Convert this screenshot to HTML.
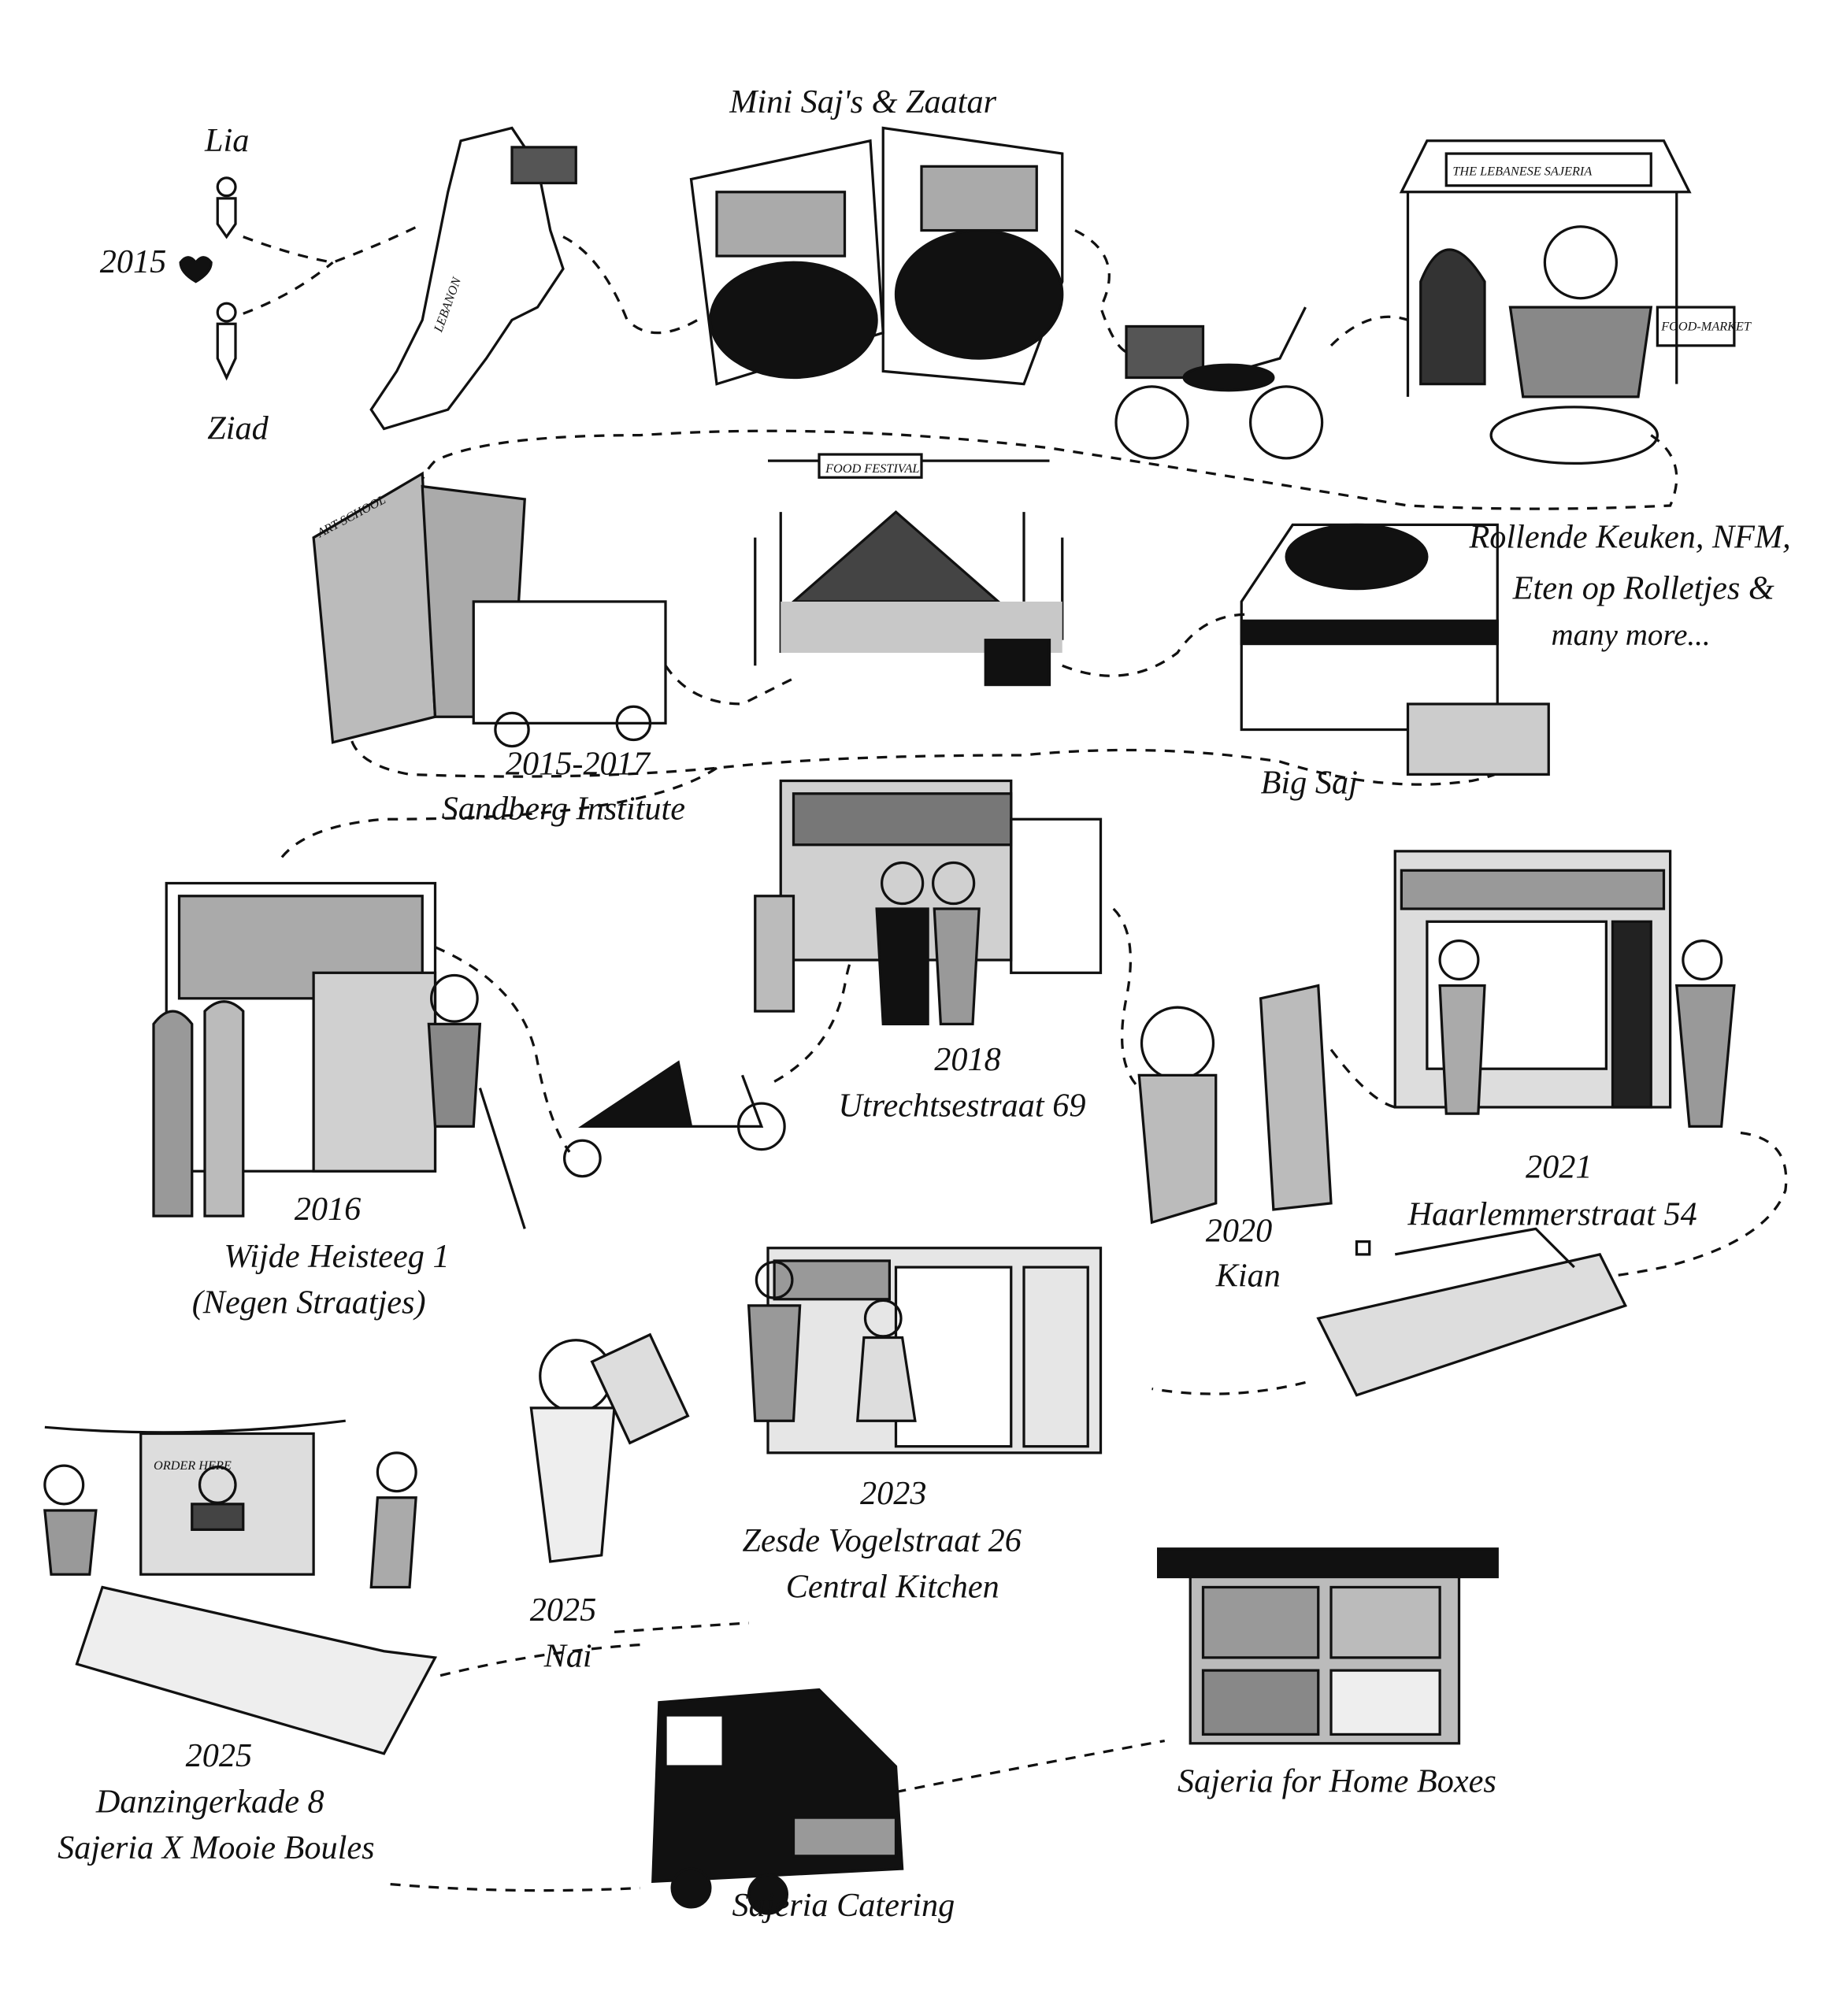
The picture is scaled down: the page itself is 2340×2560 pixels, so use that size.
<!DOCTYPE html>
<html><head><meta charset="utf-8">
<style>
html,body{margin:0;padding:0;background:#fff;}
svg{display:block;}
text{font-family:"Liberation Serif",serif;font-style:italic;fill:#111;}
</style></head>
<body>
<svg width="2340" height="2560" viewBox="0 0 1440 1575" preserveAspectRatio="none" xmlns="http://www.w3.org/2000/svg">
<rect width="1440" height="1575" fill="#fff"/>
<g fill="none" stroke="#111" stroke-width="2" stroke-dasharray="8 7">
<path d="M190 185 Q230 200 260 205 Q300 190 330 175"/>
<path d="M190 245 Q230 230 260 205"/>
<path d="M440 185 Q470 200 490 250 Q510 270 545 250"/>
<path d="M840 180 Q880 200 860 240 Q870 270 880 275"/>
<path d="M1040 270 Q1070 240 1100 250"/>
<path d="M1290 340 Q1320 360 1305 395 Q1200 400 1100 395 Q950 370 820 350 Q650 330 500 340 Q380 340 340 360 Q320 380 330 410"/>
<path d="M520 520 Q540 550 580 550 Q600 540 620 530"/>
<path d="M830 520 Q880 540 920 510 Q940 480 975 480"/>
<path d="M1190 570 Q1200 600 1150 610 Q1080 620 1000 595 Q900 580 800 590 Q650 590 560 600 Q450 610 320 605 Q265 595 275 560"/>
<path d="M560 600 Q500 640 300 640 Q240 645 220 670"/>
<path d="M340 740 Q410 770 420 830 Q430 880 445 900"/>
<path d="M605 845 Q650 820 660 770 Q665 740 680 720"/>
<path d="M870 710 Q890 730 880 780 Q870 830 890 850"/>
<path d="M1040 820 Q1070 860 1090 865"/>
<path d="M1360 885 Q1400 890 1395 930 Q1380 970 1300 990 Q1250 1000 1220 1000"/>
<path d="M1020 1080 Q960 1095 900 1085"/>
<path d="M480 1275 Q550 1270 585 1268"/>
<path d="M500 1285 Q420 1290 340 1310"/>
<path d="M305 1472 Q400 1480 500 1475"/>
<path d="M700 1400 Q800 1380 910 1360"/>
</g>
<g fill="none" stroke="#111" stroke-width="2">
<circle cx="177" cy="146" r="7"/><path d="M170 155 L170 175 L177 185 L184 175 L184 155 Z"/>
<circle cx="177" cy="244" r="7"/><path d="M170 253 L170 280 L177 295 L184 280 L184 253 Z"/>
<path d="M153 205 q-6 -8 -12 0 q0 8 12 15 q12 -7 12 -15 q-6 -8 -12 0" fill="#111"/>
<path d="M360 110 L400 100 L420 130 L430 180 L440 210 L420 240 L400 250 L380 280 L350 320 L300 335 L290 320 L310 290 L330 250 L340 200 L350 150 Z"/>
<rect x="400" y="115" width="50" height="28" fill="#555"/>
<path d="M540 140 L680 110 L690 260 L560 300 Z"/><path d="M690 100 L830 120 L830 220 L800 300 L690 290 Z"/>
<ellipse cx="620" cy="250" rx="65" ry="45" fill="#111"/><ellipse cx="765" cy="230" rx="65" ry="50" fill="#111"/>
<rect x="560" y="150" width="100" height="50" fill="#aaa"/><rect x="720" y="130" width="90" height="50" fill="#aaa"/>
<circle cx="900" cy="330" r="28"/><circle cx="1005" cy="330" r="28"/><rect x="880" y="255" width="60" height="40" fill="#555"/><path d="M930 300 L1000 280 L1020 240" /><ellipse cx="960" cy="295" rx="35" ry="10" fill="#111"/>
<path d="M1095 150 L1115 110 L1300 110 L1320 150 Z"/><path d="M1100 150 L1100 310 M1310 150 L1310 300"/>
<rect x="1130" y="120" width="160" height="25"/>
<path d="M1110 220 q20 -50 50 0 L1160 300 L1110 300 Z" fill="#333"/>
<circle cx="1235" cy="205" r="28"/><path d="M1180 240 L1290 240 L1280 310 L1190 310 Z" fill="#888"/>
<ellipse cx="1230" cy="340" rx="65" ry="22"/><rect x="1295" y="240" width="60" height="30"/>
<path d="M245 420 L330 370 L340 560 L260 580 Z" fill="#bbb"/><path d="M330 380 L410 390 L400 560 L340 560 Z" fill="#aaa"/>
<rect x="370" y="470" width="150" height="95" fill="#fff"/><circle cx="400" cy="570" r="13"/><circle cx="495" cy="565" r="13"/>
<path d="M620 470 L700 400 L780 470 Z" fill="#444"/><path d="M600 360 L820 360" /><rect x="640" y="355" width="80" height="18" fill="#fff"/>
<path d="M590 420 L590 520 M610 400 L610 510 M830 420 L830 500 M800 400 L800 470"/>
<rect x="610" y="470" width="220" height="40" fill="#c8c8c8" stroke="none"/><rect x="770" y="500" width="50" height="35" fill="#111"/>
<path d="M970 470 L1010 410 L1170 410 L1170 570 L970 570 Z"/><ellipse cx="1060" cy="435" rx="55" ry="25" fill="#111"/>
<rect x="970" y="485" width="200" height="18" fill="#111"/><rect x="1100" y="550" width="110" height="55" fill="#ccc"/>
<rect x="130" y="690" width="210" height="225"/><rect x="140" y="700" width="190" height="80" fill="#aaa"/>
<rect x="245" y="760" width="95" height="155" fill="#d0d0d0"/>
<path d="M120 800 q15 -20 30 0 L150 950 L120 950 Z" fill="#999"/><path d="M160 790 q15 -15 30 0 L190 950 L160 950 Z" fill="#bbb"/>
<circle cx="355" cy="780" r="18"/><path d="M335 800 L375 800 L370 880 L340 880 Z" fill="#888"/><path d="M375 850 L410 960"/>
<path d="M455 880 L530 830 L540 880 Z" fill="#111"/><circle cx="455" cy="905" r="14"/><circle cx="595" cy="880" r="18"/><path d="M540 880 L595 880 L580 840"/>
<rect x="610" y="610" width="180" height="140" fill="#d0d0d0"/><rect x="620" y="620" width="170" height="40" fill="#777"/>
<rect x="790" y="640" width="70" height="120"/><circle cx="705" cy="690" r="16"/><circle cx="745" cy="690" r="16"/>
<path d="M685 710 L725 710 L725 800 L690 800 Z" fill="#111"/><path d="M730 710 L765 710 L760 800 L735 800 Z" fill="#999"/>
<rect x="590" y="700" width="30" height="90" fill="#bbb"/>
<circle cx="920" cy="815" r="28"/><path d="M890 840 L950 840 L950 940 L900 955 Z" fill="#bbb"/>
<path d="M985 780 L1030 770 L1040 940 L995 945 Z" fill="#bbb"/>
<rect x="1090" y="665" width="215" height="200" fill="#ddd"/><rect x="1095" y="680" width="205" height="30" fill="#999"/>
<rect x="1115" y="720" width="140" height="115" fill="#fff"/><rect x="1260" y="720" width="30" height="145" fill="#222"/>
<circle cx="1140" cy="750" r="15"/><path d="M1125 770 L1160 770 L1155 870 L1130 870 Z" fill="#aaa"/>
<circle cx="1330" cy="750" r="15"/><path d="M1310 770 L1355 770 L1345 880 L1320 880 Z" fill="#999"/>
<path d="M1030 1030 L1250 980 L1270 1020 L1060 1090 Z" fill="#ddd"/><path d="M1090 980 L1200 960 L1230 990"/><rect x="1060" y="970" width="10" height="10"/>
<rect x="600" y="975" width="260" height="160" fill="#e6e6e6"/><rect x="605" y="985" width="90" height="30" fill="#999"/>
<rect x="700" y="990" width="90" height="140" fill="#fff"/><rect x="800" y="990" width="50" height="140"/>
<circle cx="605" cy="1000" r="14"/><path d="M585 1020 L625 1020 L620 1110 L590 1110 Z" fill="#999"/>
<circle cx="690" cy="1030" r="14"/><path d="M675 1045 L705 1045 L715 1110 L670 1110 Z" fill="#ddd"/>
<circle cx="450" cy="1075" r="28"/><path d="M415 1100 L480 1100 L470 1215 L430 1220 Z" fill="#eee"/><rect x="475" y="1050" width="50" height="70" fill="#ddd" transform="rotate(-25 500 1085)"/>
<path d="M35 1115 Q150 1125 270 1110"/><rect x="110" y="1120" width="135" height="110" fill="#ddd"/>
<circle cx="170" cy="1160" r="14"/><path d="M150 1175 L190 1175 L190 1195 L150 1195 Z" fill="#444"/>
<circle cx="50" cy="1160" r="15"/><path d="M35 1180 L75 1180 L70 1230 L40 1230 Z" fill="#999"/>
<circle cx="310" cy="1150" r="15"/><path d="M295 1170 L325 1170 L320 1240 L290 1240 Z" fill="#aaa"/>
<path d="M80 1240 L300 1290 L340 1295 L300 1370 L60 1300 Z" fill="#eee"/>
<path d="M515 1330 L640 1320 L700 1380 L705 1460 L510 1470 Z" fill="#111"/><circle cx="540" cy="1475" r="15" fill="#111"/><circle cx="600" cy="1480" r="15" fill="#111"/><rect x="520" y="1340" width="45" height="40" fill="#fff"/><rect x="620" y="1420" width="80" height="30" fill="#999"/>
<rect x="905" y="1210" width="265" height="22" fill="#111"/><rect x="930" y="1232" width="210" height="130" fill="#bbb"/>
<rect x="940" y="1240" width="90" height="55" fill="#999"/><rect x="1040" y="1240" width="85" height="55" fill="#bbb"/><rect x="940" y="1305" width="90" height="50" fill="#888"/><rect x="1040" y="1305" width="85" height="50" fill="#eee"/>
</g>
<g font-size="26">
<text x="160" y="118">Lia</text>
<text x="78" y="213">2015</text>
<text x="162" y="343">Ziad</text>
<text x="570" y="88">Mini Saj's &amp; Zaatar</text>
<text x="1148" y="428">Rollende Keuken, NFM,</text>
<text x="1182" y="468">Eten op Rolletjes &amp;</text>
<text x="1212" y="504" font-size="24">many more...</text>
<text x="395" y="605">2015-2017</text>
<text x="345" y="640">Sandberg Institute</text>
<text x="985" y="620">Big Saj</text>
<text x="730" y="836">2018</text>
<text x="655" y="872">Utrechtsestraat 69</text>
<text x="230" y="953">2016</text>
<text x="175" y="990">Wijde Heisteeg 1</text>
<text x="150" y="1026">(Negen Straatjes)</text>
<text x="942" y="970">2020</text>
<text x="950" y="1005">Kian</text>
<text x="1192" y="920">2021</text>
<text x="1100" y="957">Haarlemmerstraat 54</text>
<text x="672" y="1175">2023</text>
<text x="580" y="1212">Zesde Vogelstraat 26</text>
<text x="614" y="1248">Central Kitchen</text>
<text x="414" y="1266">2025</text>
<text x="425" y="1302">Nai</text>
<text x="145" y="1380">2025</text>
<text x="75" y="1416">Danzingerkade 8</text>
<text x="45" y="1452">Sajeria X Mooie Boules</text>
<text x="920" y="1400">Sajeria for Home Boxes</text>
<text x="572" y="1497">Sajeria Catering</text>
</g>
<g font-size="10" font-style="normal">
<text x="1135" y="137">THE LEBANESE SAJERIA</text>
<text x="250" y="420" transform="rotate(-28 250 420)">ART SCHOOL</text>
<text x="645" y="369">FOOD FESTIVAL</text>
<text x="345" y="260" transform="rotate(-70 345 260)">LEBANON</text>
<text x="1298" y="258">FOOD-MARKET</text>
<text x="120" y="1148">ORDER HERE</text>
</g>
</svg>
</body></html>
